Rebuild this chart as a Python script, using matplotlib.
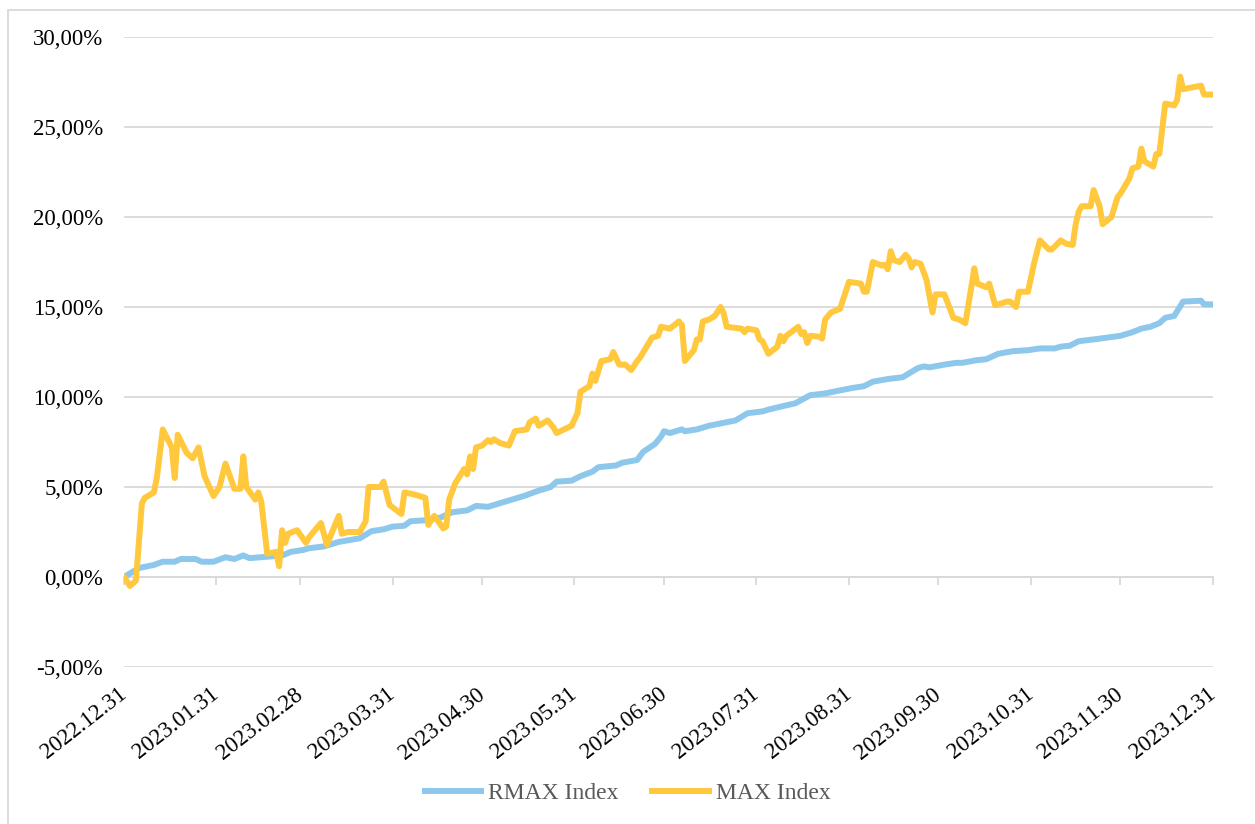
import pandas as pd
import matplotlib
matplotlib.use("Agg")
import matplotlib.pyplot as plt
import matplotlib.dates as mdates
from matplotlib.ticker import FuncFormatter, MultipleLocator
from matplotlib.patches import Rectangle

# values (cumulative return, %)
rmax_dates = [
    "2022-12-31", "2023-01-05", "2023-01-10", "2023-01-13", "2023-01-17", "2023-01-19",
    "2023-01-24", "2023-01-26", "2023-01-30", "2023-02-03", "2023-02-06", "2023-02-09",
    "2023-02-11", "2023-02-15", "2023-02-22", "2023-02-25", "2023-03-01", "2023-03-03",
    "2023-03-08", "2023-03-13", "2023-03-20", "2023-03-24", "2023-03-28", "2023-03-31",
    "2023-04-04", "2023-04-06", "2023-04-11", "2023-04-16", "2023-04-20", "2023-04-25",
    "2023-04-28", "2023-05-02", "2023-05-05", "2023-05-10", "2023-05-14", "2023-05-19",
    "2023-05-23", "2023-05-25", "2023-05-30", "2023-06-02", "2023-06-06", "2023-06-08",
    "2023-06-14", "2023-06-16", "2023-06-21", "2023-06-23", "2023-06-27", "2023-06-29",
    "2023-06-30", "2023-07-02", "2023-07-06", "2023-07-07", "2023-07-11", "2023-07-15",
    "2023-07-18", "2023-07-24", "2023-07-28", "2023-08-02", "2023-08-04", "2023-08-09",
    "2023-08-13", "2023-08-18", "2023-08-23", "2023-08-26", "2023-08-29", "2023-09-01",
    "2023-09-05", "2023-09-08", "2023-09-13", "2023-09-18", "2023-09-20", "2023-09-23",
    "2023-09-25", "2023-09-27", "2023-10-02", "2023-10-06", "2023-10-08", "2023-10-13",
    "2023-10-16", "2023-10-20", "2023-10-25", "2023-10-30", "2023-11-03", "2023-11-08",
    "2023-11-10", "2023-11-13", "2023-11-16", "2023-11-21", "2023-11-30", "2023-12-04",
    "2023-12-07", "2023-12-10", "2023-12-13", "2023-12-15", "2023-12-18", "2023-12-21",
    "2023-12-27", "2023-12-28", "2023-12-31",
]
rmax_vals = [
    0.0, 0.5, 0.67, 0.85, 0.85, 1.0,
    1.0, 0.85, 0.85, 1.1, 1.0, 1.2,
    1.05, 1.1, 1.2, 1.4, 1.5, 1.6,
    1.7, 1.95, 2.15, 2.55, 2.65, 2.8,
    2.85, 3.1, 3.15, 3.3, 3.6, 3.7,
    3.95, 3.9, 4.05, 4.3, 4.5, 4.8,
    5.0, 5.3, 5.35, 5.6, 5.85, 6.1,
    6.2, 6.35, 6.5, 6.95, 7.4, 7.8,
    8.1, 8.0, 8.2, 8.1, 8.2, 8.4,
    8.5, 8.7, 9.1, 9.2, 9.3, 9.5,
    9.65, 10.1, 10.2, 10.3, 10.4, 10.5,
    10.6, 10.85, 11.0, 11.1, 11.3, 11.6,
    11.7, 11.65, 11.8, 11.9, 11.9, 12.05,
    12.1, 12.4, 12.55, 12.6, 12.7, 12.7,
    12.8, 12.85, 13.1, 13.2, 13.4, 13.6,
    13.8, 13.9, 14.1, 14.4, 14.5, 15.3,
    15.35, 15.15, 15.15,
]

max_dates = [
    "2022-12-31", "2023-01-02", "2023-01-04", "2023-01-06", "2023-01-07", "2023-01-10",
    "2023-01-11", "2023-01-13", "2023-01-16", "2023-01-17", "2023-01-18", "2023-01-21",
    "2023-01-23", "2023-01-25", "2023-01-27", "2023-01-30", "2023-02-01", "2023-02-03",
    "2023-02-06", "2023-02-08", "2023-02-09", "2023-02-10", "2023-02-13", "2023-02-14",
    "2023-02-15", "2023-02-17", "2023-02-20", "2023-02-21", "2023-02-22", "2023-02-23",
    "2023-02-24", "2023-02-27", "2023-03-02", "2023-03-03", "2023-03-07", "2023-03-09",
    "2023-03-13", "2023-03-14", "2023-03-16", "2023-03-20", "2023-03-22", "2023-03-23",
    "2023-03-27", "2023-03-28", "2023-03-30", "2023-04-03", "2023-04-04", "2023-04-07",
    "2023-04-11", "2023-04-12", "2023-04-14", "2023-04-17", "2023-04-18", "2023-04-19",
    "2023-04-21", "2023-04-24", "2023-04-25", "2023-04-26", "2023-04-27", "2023-04-28",
    "2023-04-30", "2023-05-02", "2023-05-03", "2023-05-04", "2023-05-06", "2023-05-09",
    "2023-05-11", "2023-05-15", "2023-05-16", "2023-05-18", "2023-05-19", "2023-05-22",
    "2023-05-24", "2023-05-25", "2023-05-30", "2023-06-01", "2023-06-02", "2023-06-05",
    "2023-06-06", "2023-06-07", "2023-06-09", "2023-06-12", "2023-06-13", "2023-06-15",
    "2023-06-17", "2023-06-19", "2023-06-21", "2023-06-22", "2023-06-26", "2023-06-28",
    "2023-06-29", "2023-07-02", "2023-07-05", "2023-07-06", "2023-07-07", "2023-07-10",
    "2023-07-11", "2023-07-12", "2023-07-13", "2023-07-15", "2023-07-17", "2023-07-19",
    "2023-07-20", "2023-07-21", "2023-07-26", "2023-07-27", "2023-07-28", "2023-07-31",
    "2023-08-01", "2023-08-02", "2023-08-04", "2023-08-07", "2023-08-08", "2023-08-09",
    "2023-08-10", "2023-08-14", "2023-08-15", "2023-08-16", "2023-08-17", "2023-08-18",
    "2023-08-21", "2023-08-22", "2023-08-23", "2023-08-25", "2023-08-28", "2023-08-31",
    "2023-09-04", "2023-09-05", "2023-09-06", "2023-09-08", "2023-09-11", "2023-09-12",
    "2023-09-13", "2023-09-14", "2023-09-15", "2023-09-17", "2023-09-19", "2023-09-20",
    "2023-09-21", "2023-09-22", "2023-09-24", "2023-09-26", "2023-09-27", "2023-09-28",
    "2023-09-29", "2023-10-02", "2023-10-05", "2023-10-07", "2023-10-09", "2023-10-11",
    "2023-10-12", "2023-10-13", "2023-10-16", "2023-10-17", "2023-10-19", "2023-10-23",
    "2023-10-24", "2023-10-26", "2023-10-27", "2023-10-30", "2023-11-01", "2023-11-03",
    "2023-11-06", "2023-11-07", "2023-11-10", "2023-11-12", "2023-11-14", "2023-11-15",
    "2023-11-16", "2023-11-17", "2023-11-20", "2023-11-21", "2023-11-23", "2023-11-24",
    "2023-11-27", "2023-11-29", "2023-11-30", "2023-12-03", "2023-12-04", "2023-12-06",
    "2023-12-07", "2023-12-08", "2023-12-11", "2023-12-12", "2023-12-13", "2023-12-15",
    "2023-12-18", "2023-12-19", "2023-12-20", "2023-12-21", "2023-12-27", "2023-12-28",
    "2023-12-29", "2023-12-31",
]
max_vals = [
    0.0, -0.5, -0.2, 4.1, 4.4, 4.7,
    5.5, 8.2, 7.2, 5.5, 7.9, 6.9,
    6.6, 7.2, 5.6, 4.5, 5.0, 6.3,
    4.9, 4.9, 6.7, 5.0, 4.3, 4.7,
    4.2, 1.3, 1.4, 0.6, 2.6, 1.9,
    2.4, 2.6, 1.9, 2.2, 3.0, 1.8,
    3.4, 2.4, 2.5, 2.5, 3.1, 5.0,
    5.0, 5.3, 4.0, 3.5, 4.7, 4.6,
    4.4, 2.9, 3.4, 2.7, 2.8, 4.3,
    5.2, 6.0, 5.7, 6.7, 6.0, 7.2,
    7.3, 7.6, 7.5, 7.65, 7.45, 7.3,
    8.1, 8.2, 8.6, 8.8, 8.4, 8.7,
    8.3, 8.0, 8.4, 9.1, 10.3, 10.6,
    11.3, 10.9, 12.0, 12.1, 12.5, 11.8,
    11.8, 11.5, 12.0, 12.2, 13.3, 13.4,
    13.9, 13.8, 14.2, 14.0, 12.0, 12.6,
    13.2, 13.2, 14.2, 14.3, 14.5, 15.0,
    14.65, 13.9, 13.8, 13.6, 13.8, 13.7,
    13.2, 13.1, 12.4, 12.8, 13.4, 13.1,
    13.4, 13.9, 13.5, 13.6, 13.0, 13.4,
    13.35, 13.25, 14.3, 14.7, 14.9, 16.4,
    16.3, 15.85, 15.85, 17.5, 17.3, 17.35,
    17.1, 18.1, 17.6, 17.5, 17.9, 17.7,
    17.2, 17.5, 17.4, 16.5, 15.6, 14.7,
    15.7, 15.7, 14.4, 14.3, 14.1, 16.1,
    17.15, 16.3, 16.1, 16.3, 15.1, 15.3,
    15.3, 15.0, 15.85, 15.85, 17.4, 18.7,
    18.2, 18.2, 18.7, 18.5, 18.45, 19.6,
    20.3, 20.6, 20.6, 21.5, 20.6, 19.6,
    20.0, 21.1, 21.3, 22.15, 22.7, 22.8,
    23.8, 23.1, 22.8, 23.5, 23.5, 26.3,
    26.2, 26.5, 27.8, 27.1, 27.3, 26.8,
    26.8, 26.8,
]

series_names = ["RMAX Index", "MAX Index"]
colors = ["#8DC8EC", "#FFC83D"]

plt.rcParams["font.family"] = ["Liberation Serif", "DejaVu Serif"]

fig = plt.figure(figsize=(12.55, 8.24), dpi=100)
ax = fig.add_axes([0.0988, 0.1905, 0.8677, 0.7646])

ax.plot(pd.to_datetime(rmax_dates), rmax_vals, color=colors[0], lw=4.3,
        solid_joinstyle="round", label=series_names[0], zorder=3)
ax.plot(pd.to_datetime(max_dates), max_vals, color=colors[1], lw=4.3,
        solid_joinstyle="round", label=series_names[1], zorder=4)

ax.set_xlim(pd.Timestamp("2022-12-31"), pd.Timestamp("2023-12-31"))
ax.set_ylim(-5, 30)
ax.yaxis.set_major_locator(MultipleLocator(5))
ax.yaxis.set_major_formatter(FuncFormatter(lambda v, p: f"{v:.2f}".replace(".", ",") + "%"))
ax.grid(axis="y", color="#d9d9d9", lw=1.3)
ax.set_axisbelow(True)
for s in ax.spines.values():
    s.set_visible(False)
ax.tick_params(axis="y", length=0, pad=15, labelsize=16.5)

month_ends = pd.date_range("2022-12-31", "2023-12-31", freq="ME")
ax.set_xticks(month_ends)
ax.xaxis.set_major_formatter(mdates.DateFormatter("%Y.%m.%d"))
ax.tick_params(axis="x", length=0, pad=18, labelsize=16.5)
for lbl in ax.get_xticklabels():
    lbl.set_rotation(38)
    lbl.set_ha("right")
    lbl.set_va("center")
    lbl.set_rotation_mode("anchor")

# horizontal axis line crossing at 0 with small tick marks
sec = ax.secondary_xaxis(5 / 35)
sec.set_xticks(month_ends)
sec.set_xticklabels([])
sec.tick_params(axis="x", length=6, width=1.3, color="#d9d9d9", direction="out")
sec.spines["bottom"].set_color("#d9d9d9")
sec.spines["bottom"].set_linewidth(1.3)

leg = fig.legend(loc="center", bbox_to_anchor=(0.5, 0.037), ncol=2, frameon=False,
                 fontsize=17, handlelength=2.4, handletextpad=0.3, columnspacing=1.4)
for t in leg.get_texts():
    t.set_color("#595959")

fig.patches.append(Rectangle((8 / 1255, -0.01), 1.0, 1 - 10 / 824 + 0.01,
                             transform=fig.transFigure, fill=False,
                             edgecolor="#d9d9d9", lw=1.3))

fig.savefig("out.png", dpi=100)
